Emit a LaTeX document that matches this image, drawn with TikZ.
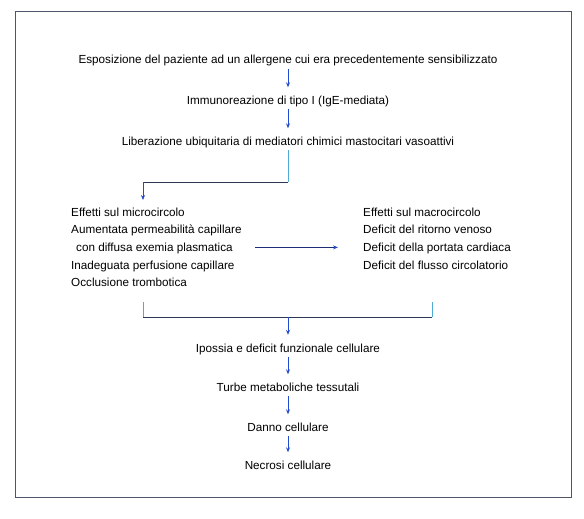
\documentclass[tikz,border=0pt]{standalone}
\usepackage{fontspec}
\setmainfont{Liberation Sans}
\usetikzlibrary{arrows.meta}

\definecolor{arrowblue}{RGB}{35,75,205}
\definecolor{linedark}{RGB}{45,55,80}
\definecolor{linenavy}{RGB}{30,45,120}
\definecolor{linecyan}{RGB}{80,170,215}

\begin{document}
\begin{tikzpicture}[x=1pt,y=-1pt,
		every node/.style={inner sep=0pt,font=\fontsize{11.7}{17.7}\selectfont},
		stepnode/.style={anchor=base,text height=8.5pt,text depth=2.5pt},
		blocknode/.style={anchor=north west,align=left},
		arr/.style={arrowblue,line width=0.8pt,-{Stealth[length=5pt,width=4pt]},
			shorten <=2pt,shorten >=8pt},
		darkline/.style={linedark,line width=0.8pt},
		cyanline/.style={linecyan,line width=0.8pt}]
		\useasboundingbox (0,0) rectangle (584,519);
		\draw [linedark!85,line width=1pt] (15,12) rectangle (571,497);
		% main chain
		\node [stepnode] (expo) at (288,64) {Esposizione del paziente ad un allergene cui era precedentemente sensibilizzato};
		\node [stepnode] (immuno) at (288,104) {Immunoreazione di tipo I (IgE-mediata)};
		\node [stepnode] (libe) at (288,145) {Liberazione ubiquitaria di mediatori chimici mastocitari vasoattivi};
		\node [blocknode] (micro) at (71,207.5) {Effetti sul microcircolo\\
			Aumentata permeabilità capillare\\
			\hspace*{5pt}con diffusa exemia plasmatica\\
			Inadeguata perfusione capillare\\
			Occlusione trombotica};
		\node [blocknode] (macro) at (363,207.5) {Effetti sul macrocircolo\\
			Deficit del ritorno venoso\\
			Deficit della portata cardiaca\\
			Deficit del flusso circolatorio};
		\node [stepnode] (ipossia) at (288,352) {Ipossia e deficit funzionale cellulare};
		\node [stepnode] (turbe) at (288,391) {Turbe metaboliche tessutali};
		\node [stepnode] (danno) at (288,431) {Danno cellulare};
		\node [stepnode] (necrosi) at (288,469) {Necrosi cellulare};
		\coordinate (fork) at (143,182);
		\coordinate (bl) at (143,317);
		\coordinate (br) at (432,317);
		\coordinate (join) at (288,317);
		% arrows
		\draw [arr] (expo) -- (immuno);
		\draw [arr] (immuno) -- (libe);
		\draw [cyanline,shorten <=2.5pt] (libe.south) -- (libe.south |- fork);
		\draw [darkline] (libe.south |- fork) -- (fork);
		\draw [arr,shorten <=0pt,shorten >=7.5pt] (fork) -- (fork |- micro.north);
		\draw [arr,shorten <=13pt,shorten >=25pt,linenavy,line width=0.9pt,
			-{Stealth[length=5pt,width=4pt,color=arrowblue]}] (micro.east) -- (micro.east -| macro.west);
		\draw [cyanline] (bl) -- ++(0,-15) (br) -- ++(0,-15);
		\draw [darkline] (bl) -- (br);
		\draw [arr,shorten <=0pt,shorten >=8.5pt] (join) -- (ipossia.north);
		\draw [arr] (ipossia) -- (turbe);
		\draw [arr] (turbe) -- (danno);
		\draw [arr] (danno) -- (necrosi);
	\end{tikzpicture}
\end{document}
